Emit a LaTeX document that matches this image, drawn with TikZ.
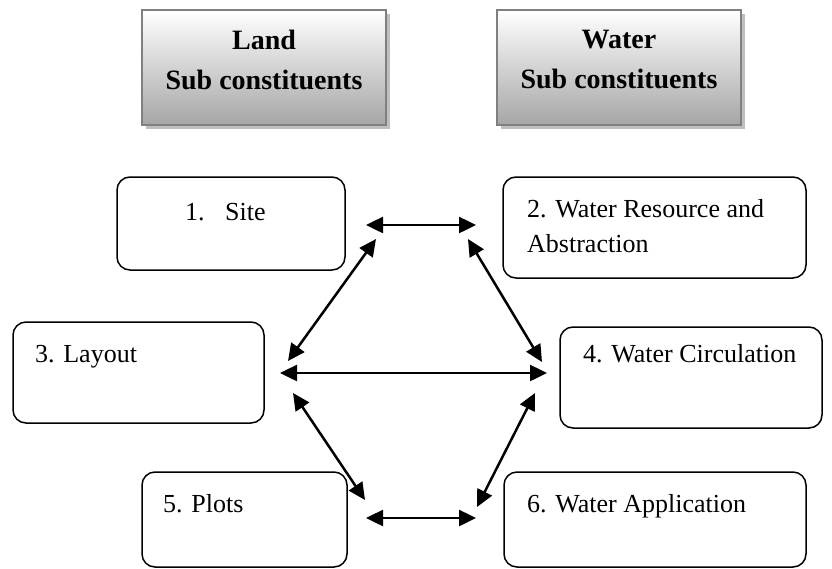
\documentclass[tikz,border=0pt]{standalone}
\usepackage{fontspec}
\setmainfont{Liberation Serif}
\usepackage{tikz}
\usetikzlibrary{arrows.meta}
\usetikzlibrary{shadows}

\begin{document}
\begin{tikzpicture}[x=1pt,y=-1pt,
    box/.style={draw, line width=1.5pt, rounded corners=13pt, inner sep=0pt},
    head/.style={draw=black!50, line width=2pt, top color=white, bottom color=gray!70!white,
        inner sep=0pt, minimum width=244pt, minimum height=115pt,
        drop shadow={shadow xshift=4pt, shadow yshift=-4pt, fill=gray!50, opacity=1}},
    txt/.style={anchor=base west, inner sep=0pt, font=\fontsize{26}{35}\selectfont},
    headtxt/.style={align=center, inner sep=0pt, font=\fontsize{28}{40}\selectfont\bfseries},
    dbl/.style={{Triangle[length=17pt,width=16pt]}-{Triangle[length=17pt,width=16pt]}, line width=2.5pt}]
    \useasboundingbox (0,0) rectangle (832,568);

    \coordinate (S1) at (366, 225);
    \coordinate (S2) at (476, 225);
    \coordinate (S3) at (376, 239);
    \coordinate (S4) at (468, 239);

    \coordinate (M1) at (288, 361);
    \coordinate (M2) at (542, 362);
    \coordinate (M3) at (280, 373);
    \coordinate (M4) at (547, 373);
    \coordinate (M5) at (293, 393);
    \coordinate (M6) at (535, 393);

    \coordinate (P1) at (365, 500);
    \coordinate (P2) at (477, 507);
    \coordinate (P3) at (366, 518);
    \coordinate (P4) at (476, 518);

    \node[head] (land) at (264, 67.5) {};
    \node[head] (water) at (619, 67.5) {};

    \node[box, minimum width=228pt, minimum height=93pt] (site) at (231, 223.5) {};
    \node[box, minimum width=303pt, minimum height=101pt] (resource) at (654.5, 227.5) {};
    \node[box, minimum width=251pt, minimum height=101pt] (layout) at (138.5, 372.5) {};
    \node[box, minimum width=262pt, minimum height=101pt] (circulation) at (691, 377.5) {};
    \node[box, minimum width=205pt, minimum height=95pt] (plots) at (244.5, 519.5) {};
    \node[box, minimum width=302pt, minimum height=95pt] (application) at (655, 519.5) {};

    \draw[dbl] (S1) -- (S2);
    \draw[dbl] (S3) -- (M1);
    \draw[dbl] (S4) -- (M2);
    \draw[dbl] (M3) -- (M4);
    \draw[dbl] (M5) -- (P1);
    \draw[dbl] (M6) -- (P2);
    \draw[dbl] (P3) -- (P4);

%labels
    \node[headtxt] (landtxt) at (264, 59.5) {Land\\Sub constituents};
    \node[headtxt] (watertxt) at (619, 59.5) {Water\\Sub constituents};

    \node[txt] (sitetxt) at (185, 220) {1.\hspace{20.5pt}Site};
    \node[txt, anchor=north west, align=left] (resourcetxt) at (527, 199.2) {2. Water Resource and\\Abstraction};
    \node[txt] (layouttxt) at (35, 362) {3. Layout};
    \node[txt] (circulationtxt) at (583, 362) {4. Water Circulation};
    \node[txt] (plotstxt) at (163, 512) {5. Plots};
    \node[txt] (applicationtxt) at (527, 512) {6. Water Application};

\end{tikzpicture}
\end{document}
